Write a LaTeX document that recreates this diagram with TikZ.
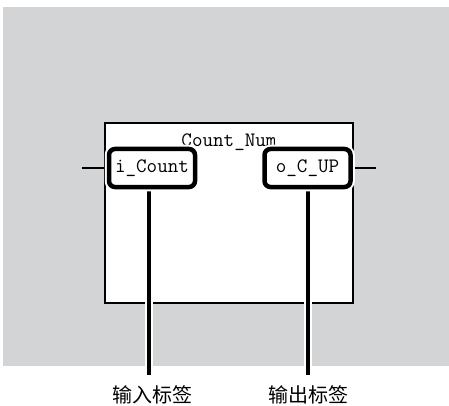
\documentclass[tikz,border=0pt]{standalone}
\usepackage{fontspec}
\newfontfamily\cjk{Noto Sans CJK SC}
\usetikzlibrary{positioning}

\begin{document}
\begin{tikzpicture}[x=1pt,y=-1pt,
  fbbox/.style={draw,line width=1.8pt,fill=white,minimum width=248pt,minimum height=180pt,inner sep=0pt},
  tagbox/.style={draw,line width=4.5pt,rounded corners=6pt,fill=white,minimum width=86pt,minimum height=38pt,inner sep=0pt,
    preaction={draw=white,line width=8.5pt},font=\fontsize{20.5}{20.5}\selectfont\ttfamily},
  tagline/.style={line width=4pt,preaction={draw=white,line width=8pt}},
  pinline/.style={line width=1.8pt},
  cntext/.style={font=\fontsize{20}{20}\selectfont\cjk}]

\definecolor{mygray}{RGB}{211,212,214}
\useasboundingbox (0,0) rectangle (449,406);

\fill[mygray] (3,7) rectangle (449,366);

% function block
\node[fbbox] (fb) at (229,213) {};
\node[font=\fontsize{20.5}{20.5}\selectfont\ttfamily] (fbname) at ([yshift=-20pt]fb.north) {Count\_Num};

% pins
\coordinate (inpin) at (82,168);
\coordinate (outpin) at (376,168);
\draw[pinline] (inpin) -- (inpin -| fb.west);
\draw[pinline] (outpin) -- (outpin -| fb.east);

% lines to the tags
\coordinate (inend) at (149,375);
\coordinate (outend) at (308,375);
\draw[tagline] (inend |- 0,180) -- (inend);
\draw[tagline] (outend |- 0,180) -- (outend);

% tag boxes
\node[tagbox] (inlbl) at (152,168) {i\_Count};
\node[tagbox] (outlbl) at (307.5,168) {o\_C\_UP};

\node[cntext] (intag) at (152,395) {输入标签};
\node[cntext] (outtag) at (308,395) {输出标签};
\end{tikzpicture}
\end{document}
